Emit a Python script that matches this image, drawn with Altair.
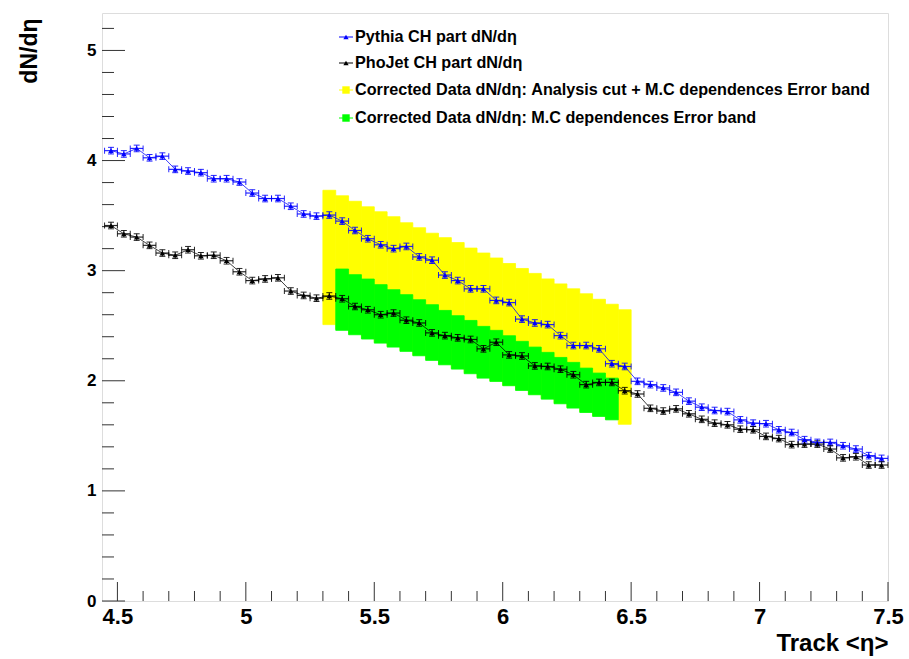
import altair as alt
import pandas as pd

# ---------------- data ----------------
# bin centres of <eta> (bins 0.05 wide, 4.45 .. 7.50)
eta = [round(4.475 + 0.05 * i, 3) for i in range(61)]
half_bin = 0.025

pythia = [4.09, 4.06, 4.11, 4.025, 4.04, 3.92, 3.905, 3.89, 3.835, 3.835, 3.805, 3.705,
          3.655, 3.655, 3.585, 3.515, 3.495, 3.505,
          3.45, 3.365, 3.29, 3.235, 3.20, 3.22, 3.125, 3.095, 2.96, 2.91, 2.835, 2.835,
          2.73, 2.71,
          2.56, 2.525, 2.51, 2.41, 2.32, 2.32, 2.29, 2.155, 2.13, 1.995, 1.965, 1.935,
          1.895, 1.815,
          1.76, 1.73, 1.72, 1.645, 1.615, 1.61, 1.555, 1.53, 1.465, 1.44, 1.44, 1.41,
          1.38, 1.32, 1.295]
pythia_err = [0.03] * 61

phojet = [3.41, 3.335, 3.305, 3.23, 3.16, 3.14, 3.19, 3.135, 3.14, 3.09, 2.99, 2.91,
          2.925, 2.935, 2.815, 2.775, 2.75, 2.77,
          2.745, 2.675, 2.645, 2.60, 2.615, 2.55, 2.525, 2.435, 2.41, 2.39, 2.375, 2.29,
          2.35, 2.235,
          2.225, 2.135, 2.13, 2.105, 2.055, 1.965, 1.985, 1.985, 1.91, 1.88, 1.75, 1.725,
          1.745, 1.70,
          1.65, 1.615, 1.60, 1.56, 1.555, 1.495, 1.475, 1.42, 1.425, 1.425, 1.38, 1.30,
          1.31, 1.235, 1.235]
phojet_err = [0.03] * 61

# error bands (bin low edges, bin width 0.05)
yellow_edges = [5.30, 5.35, 5.40, 5.45, 5.50, 5.55, 5.60, 5.65, 5.70, 5.75, 5.80, 5.85,
                5.90, 5.95, 6.00, 6.05, 6.10, 6.15, 6.20, 6.25, 6.30, 6.35, 6.40, 6.45]
yellow_hi = [3.73, 3.68, 3.63, 3.58, 3.535, 3.49, 3.435, 3.39, 3.34, 3.30, 3.255, 3.205,
             3.16, 3.115, 3.065, 3.02, 2.975, 2.925, 2.88, 2.835, 2.79, 2.74, 2.695, 2.645]
yellow_lo = [2.51, 2.47, 2.43, 2.39, 2.35, 2.315, 2.275, 2.235, 2.195, 2.155, 2.115, 2.075,
             2.035, 2.00, 1.96, 1.92, 1.88, 1.84, 1.80, 1.76, 1.72, 1.685, 1.655, 1.605]

green_edges = [5.35, 5.40, 5.45, 5.50, 5.55, 5.60, 5.65, 5.70, 5.75, 5.80, 5.85, 5.90,
               5.95, 6.00, 6.05, 6.10, 6.15, 6.20, 6.25, 6.30, 6.35, 6.40]
green_hi = [3.015, 2.964, 2.924, 2.873, 2.827, 2.782, 2.736, 2.691, 2.639, 2.591, 2.548,
            2.494, 2.458, 2.409, 2.358, 2.306, 2.258, 2.212, 2.167, 2.115, 2.07, 2.024]
green_lo = [2.458, 2.418, 2.379, 2.342, 2.306, 2.267, 2.227, 2.185, 2.145, 2.106, 2.064,
            2.024, 1.994, 1.955, 1.912, 1.873, 1.833, 1.791, 1.752, 1.712, 1.676, 1.645]
band_width = 0.05

legend_labels = ["Pythia CH part dN/d\u03b7",
                 "PhoJet CH part dN/d\u03b7",
                 "Corrected Data dN/d\u03b7: Analysis cut + M.C dependences Error band",
                 "Corrected Data dN/d\u03b7: M.C dependences Error band"]

x_major = [4.5, 5.0, 5.5, 6.0, 6.5, 7.0, 7.5]
x_minor = [round(4.5 + 0.1 * i, 1) for i in range(31) if i % 5]
y_major = [0, 1, 2, 3, 4, 5]
y_minor = [round(0.2 * i, 1) for i in range(27) if i % 5]

# ---------------- tables ----------------
rows = []
for name, vals, errs in (("Pythia", pythia, pythia_err), ("PhoJet", phojet, phojet_err)):
    for x, v, e in zip(eta, vals, errs):
        rows.append(dict(series=name, eta=x, val=v, xlo=x - half_bin, xhi=x + half_bin,
                         ylo=v - e, yhi=v + e))
curves = pd.DataFrame(rows)

yellow = pd.DataFrame(dict(x0=yellow_edges, x1=[e + band_width for e in yellow_edges],
                           lo=yellow_lo, hi=yellow_hi))
green = pd.DataFrame(dict(x0=green_edges, x1=[e + band_width for e in green_edges],
                          lo=green_lo, hi=green_hi))

W, H = 786, 588
FONT = "Liberation Sans"
YELLOW = "#ffff00"
GREEN = "#00ff00"

x_scale = alt.Scale(domain=[4.44, 7.5], nice=False, zero=False)
y_scale = alt.Scale(domain=[0, 5.34], nice=False, zero=False)

x_axis = alt.Axis(values=x_major, format="~g", labelFont=FONT, labelFontSize=22,
                  labelFontWeight="bold", labelColor="black", labelPadding=5,
                  labelFlush=False, labelOverlap=False, ticks=False, domain=False,
                  grid=False, title="Track <\u03b7>", titleFont=FONT, titleFontSize=24,
                  titleFontWeight="bold", titleColor="black", titleAlign="right",
                  titleAnchor="end", titleX=W, titleY=49, titleBaseline="alphabetic")
y_axis = alt.Axis(values=y_major, format="d", labelFont=FONT, labelFontSize=17,
                  labelFontWeight="bold", labelColor="black", labelPadding=6,
                  ticks=False, domain=False, grid=False, title="dN/d\u03b7",
                  titleFont=FONT, titleFontSize=23, titleFontWeight="bold",
                  titleColor="black", titleAngle=270, titleAlign="right",
                  titleAnchor="end", titleBaseline="alphabetic", titleX=-66, titleY=5)

color_scale = alt.Scale(domain=["Pythia", "PhoJet"], range=["#0000ff", "#000000"])
col = alt.Color("series:N", scale=color_scale, legend=None)

yellow_layer = alt.Chart(yellow).mark_rect(color=YELLOW, stroke=YELLOW, strokeWidth=0.8).encode(
    x=alt.X("x0:Q", scale=x_scale, axis=x_axis), x2="x1:Q",
    y=alt.Y("lo:Q", scale=y_scale, axis=y_axis), y2="hi:Q")
green_layer = alt.Chart(green).mark_rect(color=GREEN, stroke=GREEN, strokeWidth=0.8).encode(
    x=alt.X("x0:Q", scale=x_scale, axis=x_axis), x2="x1:Q",
    y=alt.Y("lo:Q", scale=y_scale, axis=y_axis), y2="hi:Q")

cbase = alt.Chart(curves)
xq = alt.X("eta:Q", scale=x_scale, axis=x_axis)
yq = alt.Y("val:Q", scale=y_scale, axis=y_axis)

line_layer = cbase.mark_line(strokeWidth=1, opacity=0.75).encode(
    x=xq, y=yq, color=col, detail="series:N")
hbar = cbase.mark_rule(strokeWidth=1.2, opacity=0.85).encode(
    x=alt.X("xlo:Q", scale=x_scale, axis=x_axis), x2="xhi:Q", y=yq, color=col)
vbar = cbase.mark_rule(strokeWidth=1.2, opacity=0.85).encode(
    x=xq, y=alt.Y("ylo:Q", scale=y_scale, axis=y_axis), y2="yhi:Q", color=col)
hcap_l = cbase.mark_tick(orient="vertical", size=6, thickness=1, opacity=0.85).encode(
    x=alt.X("xlo:Q", scale=x_scale, axis=x_axis), y=yq, color=col)
hcap_r = cbase.mark_tick(orient="vertical", size=6, thickness=1, opacity=0.85).encode(
    x=alt.X("xhi:Q", scale=x_scale, axis=x_axis), y=yq, color=col)
vcap_lo = cbase.mark_tick(orient="horizontal", size=6, thickness=1, opacity=0.85).encode(
    x=xq, y=alt.Y("ylo:Q", scale=y_scale, axis=y_axis), color=col)
vcap_hi = cbase.mark_tick(orient="horizontal", size=6, thickness=1, opacity=0.85).encode(
    x=xq, y=alt.Y("yhi:Q", scale=y_scale, axis=y_axis), color=col)
markers = cbase.mark_point(shape="triangle-up", filled=True, size=30, opacity=1).encode(
    x=xq, y=yq, color=col)

# inward tick marks (ROOT style)
tick_col = "#333333"
xmaj = alt.Chart(pd.DataFrame(dict(t=x_major))).mark_rule(color=tick_col, strokeWidth=1).encode(
    x=alt.X("t:Q", scale=x_scale, axis=x_axis), y=alt.value(H), y2=alt.value(H - 19))
xmin = alt.Chart(pd.DataFrame(dict(t=x_minor))).mark_rule(color=tick_col, strokeWidth=1).encode(
    x=alt.X("t:Q", scale=x_scale, axis=x_axis), y=alt.value(H), y2=alt.value(H - 10))
ymaj = alt.Chart(pd.DataFrame(dict(t=y_major))).mark_rule(color=tick_col, strokeWidth=1).encode(
    y=alt.Y("t:Q", scale=y_scale, axis=y_axis), x=alt.value(0), x2=alt.value(23))
ymin = alt.Chart(pd.DataFrame(dict(t=y_minor))).mark_rule(color=tick_col, strokeWidth=1).encode(
    y=alt.Y("t:Q", scale=y_scale, axis=y_axis), x=alt.value(0), x2=alt.value(12))

# legend (drawn by hand, ROOT TLegend look)
leg = pd.DataFrame(dict(label=legend_labels,
                        ly=[24, 50, 77, 105],
                        c=["#0000ff", "#000000", YELLOW, GREEN],
                        kind=["tri", "tri", "sq", "sq"]))
lbase = alt.Chart(leg)
leg_text = lbase.mark_text(align="left", baseline="middle", font=FONT, fontSize=16.2,
                           fontWeight="bold", color="black").encode(
    x=alt.value(253), y=alt.Y("ly:Q", scale=None), text="label:N")
leg_line = lbase.mark_rule(strokeWidth=1).encode(
    x=alt.value(237), x2=alt.value(251), y=alt.Y("ly:Q", scale=None),
    color=alt.Color("c:N", scale=None))
leg_tri = lbase.transform_filter(alt.datum.kind == "tri").mark_point(
    shape="triangle-up", filled=True, size=28, opacity=1).encode(
    x=alt.value(244), y=alt.Y("ly:Q", scale=None), color=alt.Color("c:N", scale=None))
leg_sq = lbase.transform_filter(alt.datum.kind == "sq").mark_square(
    size=55, opacity=1).encode(
    x=alt.value(244), y=alt.Y("ly:Q", scale=None), color=alt.Color("c:N", scale=None))

chart = alt.layer(
    yellow_layer, green_layer, xmaj, xmin, ymaj, ymin,
    line_layer, hbar, vbar, hcap_l, hcap_r, vcap_lo, vcap_hi, markers,
    leg_line, leg_tri, leg_sq, leg_text
).properties(
    width=W, height=H,
    padding={"left": 102, "top": 13, "right": 21, "bottom": 58},
    autosize=alt.AutoSizeParams(type="none"),
).configure_view(
    stroke="#444444", strokeWidth=1.5
).configure(
    background="white", font=FONT
)

chart.save("out.html", embed_options={"renderer": "svg", "actions": False})
